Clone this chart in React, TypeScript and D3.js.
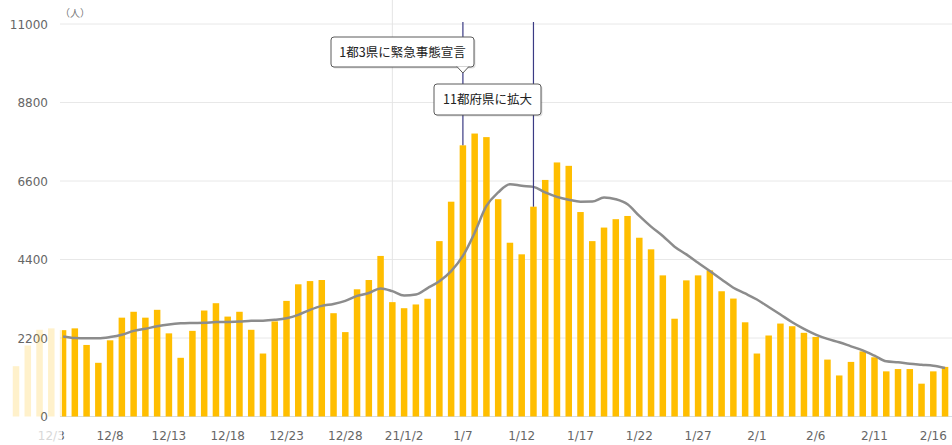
import * as d3 from 'd3'
import * as React from 'react'

//------------------------------data------------------------------
const WIDTH = 952
const HEIGHT = 445

// daily new cases, 2020/11/30 -> 2021/2/17
const firstDay = '2020-11-30'
const lastDay = '2021-02-17'
const dailyCases = [
  1410, 1990, 2430, 2470, 2420, 2470, 2005, 1505, 2135, 2770, 2935, 2770, 2990, 2330, 1645, 2400,
  2970, 3175, 2800, 2935, 2430, 1765, 2665, 3240, 3705, 3795, 3825, 2895, 2365, 3565, 3825, 4500,
  3205, 3035, 3140, 3300, 4915, 6020, 7600, 7930, 7830, 6090, 4870, 4545, 5880, 6630, 7120, 7025,
  5730, 4915, 5295, 5530, 5620, 5010, 4685, 3955, 2740, 3815, 3955, 4095, 3510, 3305, 2640,
  1765, 2270, 2605, 2530, 2345, 2230, 1595, 1150, 1530, 1825, 1660, 1265, 1330, 1330, 920, 1265, 1390
]

// 7-day average, 2020/12/4 -> 2021/2/17
const avgFirstDay = '2020-12-04'
const weeklyAvg = [
  2245, 2200, 2190, 2190, 2225, 2290, 2400, 2460, 2530, 2580, 2610, 2620, 2625, 2645, 2650, 2660,
  2680, 2685, 2710, 2755, 2850, 2990, 3100, 3155, 3240, 3380, 3460, 3590,
  3513, 3390, 3420, 3600, 3790, 4075, 4500, 5150, 5900, 6280, 6510, 6465, 6435, 6280, 6155, 6075,
  6020, 6024, 6136, 6088, 5948, 5620, 5321, 5058, 4759, 4543, 4309, 4075, 3841, 3607, 3448,
  3279, 3070, 2857, 2641, 2456, 2296, 2174, 2080, 1967, 1854, 1705, 1546, 1518, 1481, 1452, 1424, 1359
]

const tickDates = [
  '2020-12-03', '2020-12-08', '2020-12-13', '2020-12-18', '2020-12-23', '2020-12-28',
  '2021-01-02', '2021-01-07', '2021-01-12', '2021-01-17', '2021-01-22', '2021-01-27', '2021-02-01',
  '2021-02-06', '2021-02-11', '2021-02-16'
]
const tickLabels = [
  '12/3', '12/8', '12/13', '12/18', '12/23', '12/28', '21/1/2', '1/7', '1/12', '1/17',
  '1/22', '1/27', '2/1', '2/6', '2/11', '2/16'
]
const yTicks = [0, 2200, 4400, 6600, 8800, 11000]

const eventDates = ['2021-01-07', '2021-01-13']
const eventLabels = ['1都3県に緊急事態宣言', '11都府県に拡大']

//------------------------------scales------------------------------
const parse = d3.timeParse('%Y-%m-%d')
const days = d3.timeDay.range(parse(firstDay)!, d3.timeDay.offset(parse(lastDay)!, 1))
const avgDays = d3.timeDay.range(parse(avgFirstDay)!, d3.timeDay.offset(parse(lastDay)!, 1))

const PLOT_LEFT = 62
const x = d3
  .scaleTime()
  .domain([parse('2020-12-03')!, parse('2021-02-16')!])
  .range([51.3, 933.3])
const y = d3.scaleLinear().domain([0, 11000]).range([416.5, 24])

const BAR_W = 6.5
const BAR_COLOR = '#ffbe00'
const AXIS_FONT = '"DejaVu Sans", Verdana, sans-serif'
const JP_FONT = '"Noto Sans CJK JP", sans-serif'

const line = d3
  .line<number>()
  .x((_, i) => x(avgDays[i]))
  .y(d => y(d))
  .curve(d3.curveMonotoneX)

//------------------------------parts------------------------------
const Bars = () => (
  <g>
    {dailyCases.map((v, i) => (
      <rect
        key={i}
        x={x(days[i]) - BAR_W / 2}
        y={y(v)}
        width={BAR_W}
        height={y(0) - y(v)}
        fill={BAR_COLOR}
      />
    ))}
  </g>
)

const XLabels = ({ color }: { color: string }) => (
  <g fontFamily={AXIS_FONT} fontSize={12} fill={color} textAnchor="middle">
    {tickDates.map((d, i) => (
      <text key={d} x={x(parse(d)!)} y={440}>
        {tickLabels[i]}
      </text>
    ))}
  </g>
)

const Callout = (props: {
  x0: number
  y0: number
  w: number
  h: number
  text: string
  tipX?: number
}) => {
  const { x0, y0, w, h, text, tipX } = props
  return (
    <g>
      <rect x={x0 + 1.5} y={y0 + 1.5} width={w} height={h} rx={3} fill="#000" opacity={0.12} />
      <rect x={x0} y={y0} width={w} height={h} rx={3} fill="#fff" stroke="#5a5a5a" strokeWidth={1} />
      {tipX !== undefined && (
        <path
          d={`M${tipX - 6},${y0 + h - 0.5} L${tipX},${y0 + h + 6} L${tipX + 6},${y0 + h - 0.5}`}
          fill="#fff"
          stroke="#5a5a5a"
          strokeWidth={1}
        />
      )}
      <text
        x={x0 + w / 2}
        y={y0 + h / 2 + 4.5}
        textAnchor="middle"
        fontFamily={JP_FONT}
        fontSize={12.5}
        fill="#222"
      >
        {text}
      </text>
    </g>
  )
}

//------------------------------Component------------------------------
export default function App() {
  const x1 = x(parse(eventDates[0])!)
  const x2 = x(parse(eventDates[1])!)
  const idx1 = days.findIndex(d => +d === +parse(eventDates[0])!)
  const idx2 = days.findIndex(d => +d === +parse(eventDates[1])!)

  return (
    <svg
      width={WIDTH}
      height={HEIGHT}
      style={{ position: 'absolute', left: 0, top: 0, background: '#fff' }}
    >
      <defs>
        <clipPath id="plot-clip">
          <rect x={PLOT_LEFT} y={0} width={WIDTH - PLOT_LEFT} height={HEIGHT} />
        </clipPath>
        <clipPath id="fade-clip">
          <rect x={0} y={0} width={PLOT_LEFT} height={HEIGHT} />
        </clipPath>
      </defs>

      {/* grid */}
      {yTicks.map(t => (
        <line
          key={t}
          x1={60}
          x2={WIDTH}
          y1={y(t)}
          y2={y(t)}
          stroke={t === 0 ? '#d6dce4' : '#e8e8e8'}
          strokeWidth={1}
        />
      ))}
      <line
        x1={x(parse('2021-01-01')!)}
        x2={x(parse('2021-01-01')!)}
        y1={0}
        y2={y(0)}
        stroke="#e4e4e4"
      />

      {/* y labels */}
      <g fontFamily={AXIS_FONT} fontSize={12} fill="#666" textAnchor="end">
        {yTicks.map(t => (
          <text key={t} x={48} y={y(t) + 4.5}>
            {t}
          </text>
        ))}
      </g>
      <text x={60} y={17} fontFamily={JP_FONT} fontSize={10} fill="#777">
        （人）
      </text>

      {/* scrolled-out part, faded */}
      <g clipPath="url(#fade-clip)" opacity={0.2}>
        <Bars />
      </g>
      <g clipPath="url(#fade-clip)">
        <XLabels color="#d8d8d8" />
      </g>

      {/* visible part */}
      <g clipPath="url(#plot-clip)">
        <Bars />
        <path d={line(weeklyAvg) || ''} fill="none" stroke="#8c8c8c" strokeWidth={2.5} />
        <XLabels color="#666" />
      </g>

      {/* events */}
      <line x1={x1} x2={x1} y1={22} y2={y(dailyCases[idx1])} stroke="#3b3b84" strokeWidth={1.2} />
      <line x1={x2} x2={x2} y1={22} y2={y(dailyCases[idx2])} stroke="#3b3b84" strokeWidth={1.2} />
      <Callout x0={331} y0={37} w={143} h={30} text={eventLabels[0]} tipX={x1} />
      <Callout x0={434} y0={84} w={107} h={31} text={eventLabels[1]} />
    </svg>
  )
}
